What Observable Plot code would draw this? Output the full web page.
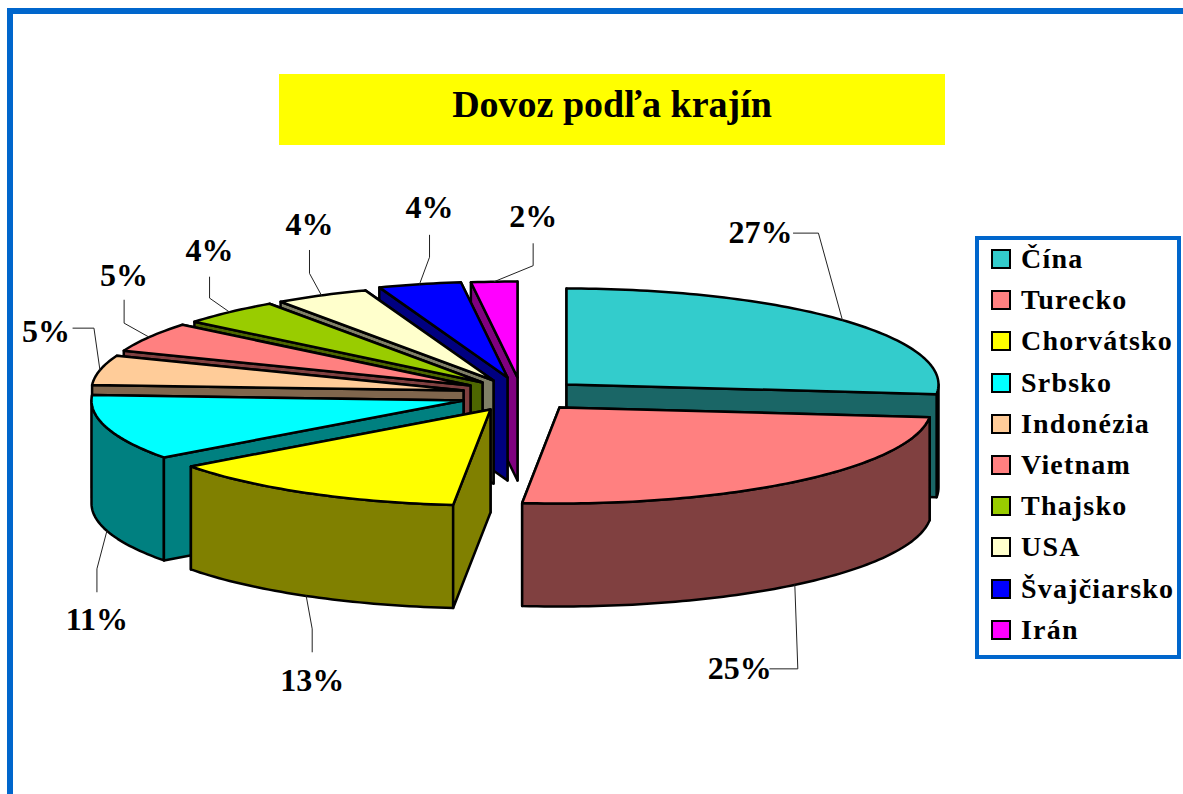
<!DOCTYPE html>
<html lang="sk">
<head>
<meta charset="utf-8">
<title>Dovoz podľa krajín</title>
<script src="https://cdn.jsdelivr.net/npm/d3@7"></script>
<script src="https://cdn.jsdelivr.net/npm/@observablehq/plot@0.6"></script>
<style>
  html, body { margin: 0; padding: 0; background: #fff; }
  #page { position: relative; width: 1183px; height: 794px; overflow: hidden; font-family: "Liberation Serif", serif; font-weight: bold; color: #000; }
  #page svg { position: absolute; left: 0; top: 0; background: transparent; }
  #edgeTop { position: absolute; left: 7px; top: 8px; right: 0; height: 6px; background: #0066cc; }
  #edgeLeft { position: absolute; left: 7px; top: 8px; bottom: 0; width: 6px; background: #0066cc; }
  #title { position: absolute; left: 279px; top: 74px; width: 666px; height: 71px; background: #ffff00; text-align: center; line-height: 61px; font-size: 38px; }
  #legend { position: absolute; left: 975px; top: 236px; width: 198px; height: 415px; border: 4px solid #0066cc; background: #fff; }
  .item { position: absolute; left: 12px; height: 30px; font-size: 28px; line-height: 30px; white-space: nowrap; }
  .swatch { position: absolute; left: 0; top: 5px; width: 16px; height: 16px; border: 2px solid #000; }
  .name { position: absolute; left: 30px; top: 0; letter-spacing: 1.2px; }
</style>
</head>
<body>
<div id="page">
  <div id="edgeTop"></div>
  <div id="edgeLeft"></div>
  <div id="title">Dovoz podľa krajín</div>
  <div id="legend"></div>
</div>
<script>
// Data
const countries = ["Čína", "Turecko", "Chorvátsko", "Srbsko", "Indonézia", "Vietnam", "Thajsko", "USA", "Švajčiarsko", "Irán"];
const shares = [26.6, 25, 13.3, 11, 5, 5, 4.4, 4.1, 3.6, 2];

// Styles
const topColors = ["#33cccc", "#ff8080", "#ffff00", "#00ffff", "#ffcc99", "#ff8080", "#99cc00", "#ffffcc", "#0000ff", "#ff00ff"];
const sideColors = ["#1a6666", "#804040", "#808000", "#008080", "#80664d", "#804040", "#4d6600", "#808066", "#000080", "#800080"];

// Pie layout, in chart units
const radiusX = 372, radiusY = 96, depth = 103;
const apexX = [566, 559, 490, 463, 463, 470, 482, 493, 507, 517];
const apexY = [384, 407, 409, 400, 390, 385, 382, 380, 377, 377];
const paintOrder = [9, 8, 7, 6, 5, 4, 3, 2, 0, 1];
// Leader offsets from the rim point of each slice: elbow, end, label
const elbowDX = [-24, 3, 6, -10, -6, -25, -20, -12, 10, 39];
const elbowDY = [-87, 84, 33, 38, -42, -14, -14, -22, -27, -16];
const endDX = [-49, -25, 6, -10, -27, -25, -20, -12, 10, 39];
const endDY = [-87, 84, 56, 61, -42, -37, -35, -45, -49, -38];
const labelDX = [-82, -55, 6, -10, -54, -25, -20, -12, 10, 39];
const labelDY = [-87, 84, 85, 89, -38, -61, -61, -71, -76, -65];

const total = d3.sum(shares);
const cumulative = d3.cumsum(shares);
const startAngle = i => (i ? cumulative[i - 1] : 0) / total * 2 * Math.PI;
const endAngle = i => cumulative[i] / total * 2 * Math.PI;
const rim = (i, a, drop = 0) => ({
  x: apexX[i] + radiusX * Math.sin(a),
  y: apexY[i] - radiusY * Math.cos(a) + drop
});
const arc = (i, a0, a1, drop = 0) => {
  const n = Math.max(2, Math.ceil((a1 - a0) / 0.02));
  return d3.range(n + 1).map(k => rim(i, a0 + (a1 - a0) * k / n, drop));
};

const polygons = [];
let polyId = 0;
const addPolygon = (points, fill) => {
  const id = polyId++;
  for (const p of points) polygons.push({x: p.x, y: p.y, id, fill});
};
const wall = (i, a) => {
  const apex = {x: apexX[i], y: apexY[i]};
  const e = rim(i, a);
  addPolygon([apex, e, {x: e.x, y: e.y + depth}, {x: apex.x, y: apex.y + depth}], sideColors[i]);
};

for (const i of paintOrder) {
  const a0 = startAngle(i), a1 = endAngle(i);
  const apexXi = apexX[i];
  const startFront = rim(i, a0).x < apexXi;   // apex -> start runs leftwards: facing the viewer
  const endFront = rim(i, a1).x > apexXi;     // end -> apex runs leftwards: facing the viewer
  if (!startFront) wall(i, a0);
  if (!endFront) wall(i, a1);
  const f0 = Math.max(a0, Math.PI / 2), f1 = Math.min(a1, 3 * Math.PI / 2);
  if (f1 > f0) addPolygon([...arc(i, f0, f1), ...arc(i, f0, f1, depth).reverse()], sideColors[i]);
  if (startFront) wall(i, a0);
  if (endFront) wall(i, a1);
  addPolygon([{x: apexX[i], y: apexY[i]}, ...arc(i, a0, a1)], topColors[i]);
}

const leaders = [];
const labels = [];
shares.forEach((v, i) => {
  const mid = (startAngle(i) + endAngle(i)) / 2;
  const front = Math.cos(mid) < 0;
  const a = rim(i, mid, front ? depth : 0);
  leaders.push({x: a.x, y: a.y, i});
  leaders.push({x: a.x + elbowDX[i], y: a.y + elbowDY[i], i});
  leaders.push({x: a.x + endDX[i], y: a.y + endDY[i], i});
  labels.push({x: a.x + labelDX[i], y: a.y + labelDY[i], text: `${Math.round(v)}%`});
});

const chart = Plot.plot({
  width: 1183,
  height: 794,
  margin: 0,
  x: {domain: [0, 1183], axis: null},
  y: {domain: [794, 0], axis: null},
  color: {type: "identity"},
  marks: [
    Plot.line(polygons, {x: "x", y: "y", z: "id", fill: "fill", stroke: "#000", strokeWidth: 2.5, curve: "linear-closed"}),
    Plot.line(leaders, {x: "x", y: "y", z: "i", stroke: "#222", strokeWidth: 1}),
    Plot.text(labels, {x: "x", y: "y", text: "text", fontFamily: "Liberation Serif", fontWeight: "bold", fontSize: 32, fill: "#000"})
  ]
});
const page = document.getElementById("page");
page.insertBefore(chart, page.firstChild);

const legend = document.getElementById("legend");
const legendStep = 41.2, legendTop = 4;
countries.forEach((name, i) => {
  const row = document.createElement("div");
  row.className = "item";
  row.style.top = `${legendTop + legendStep * i}px`;
  const swatch = document.createElement("span");
  swatch.className = "swatch";
  swatch.style.background = topColors[i];
  const label = document.createElement("span");
  label.className = "name";
  label.textContent = name;
  row.append(swatch, label);
  legend.append(row);
});
</script>
</body>
</html>
